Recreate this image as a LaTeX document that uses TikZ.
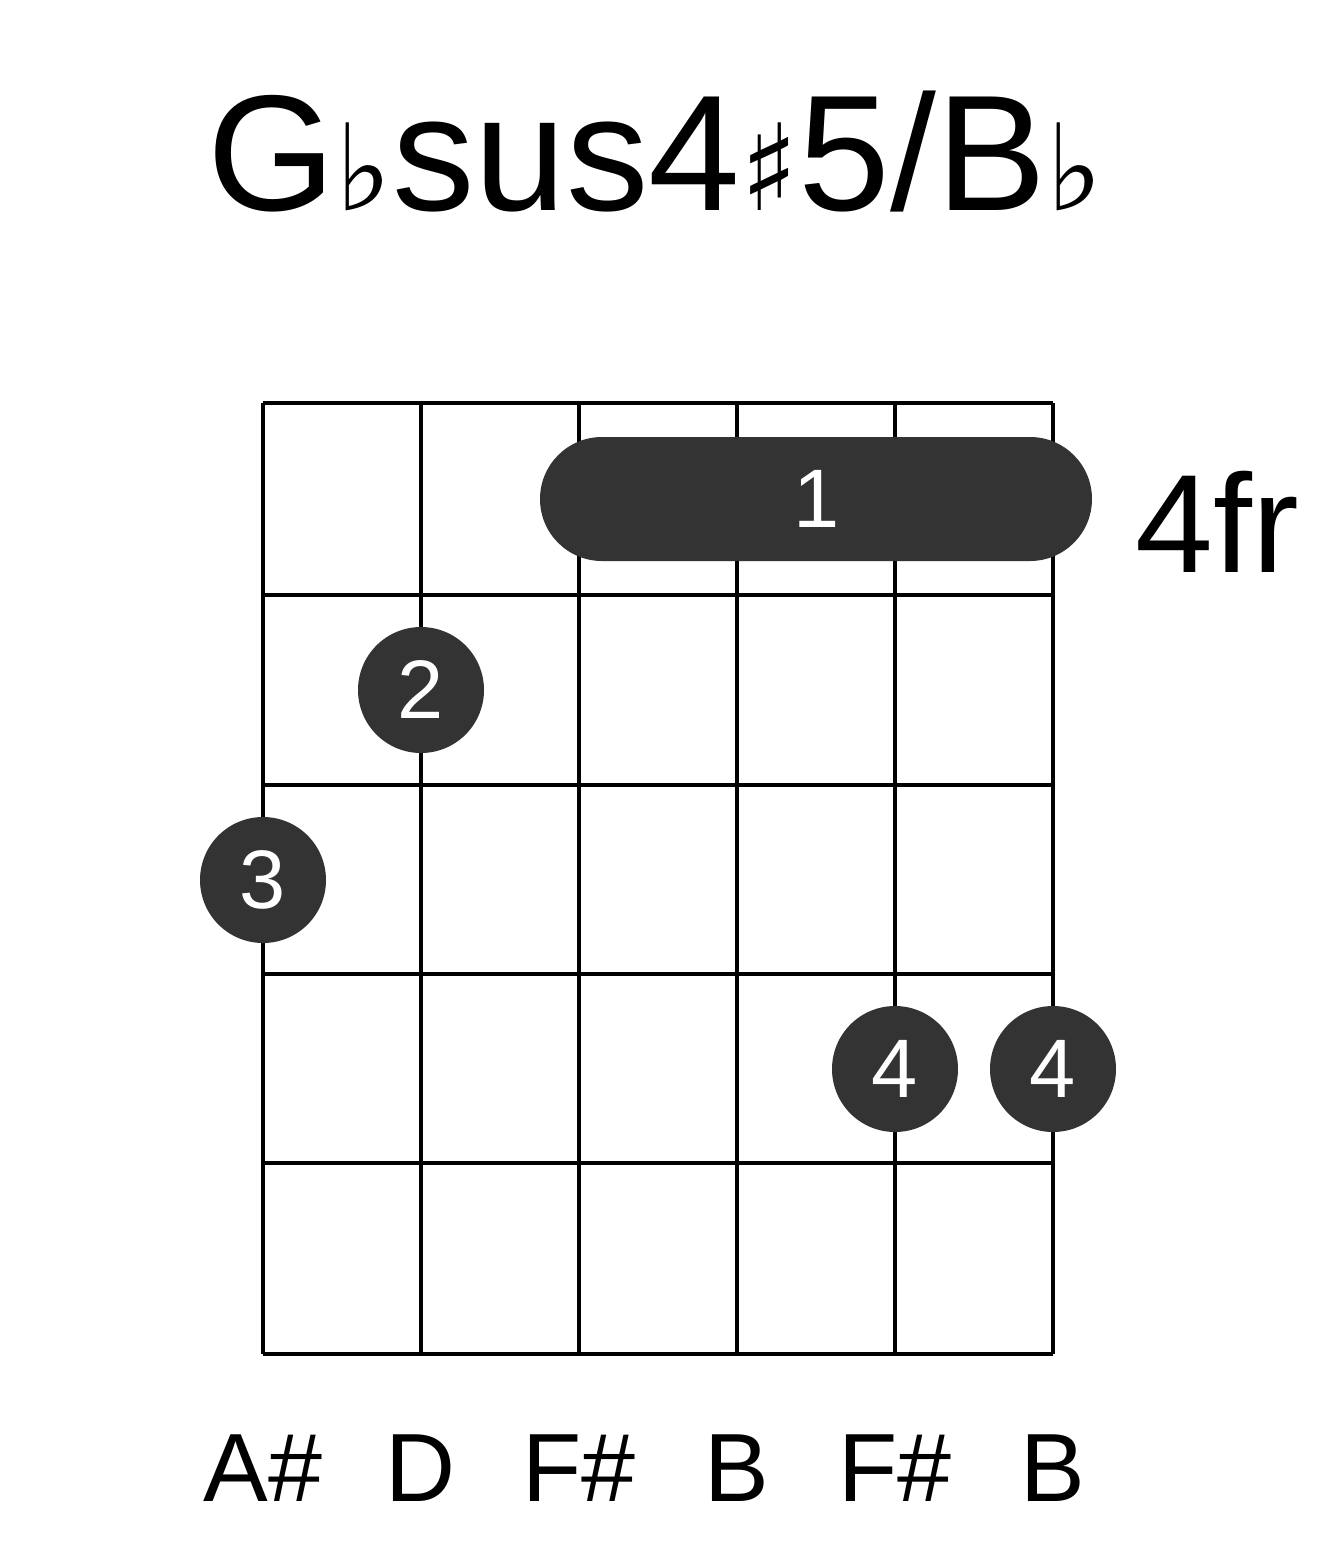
\documentclass[tikz,border=0pt]{standalone}
\usepackage{fontspec}
\setmainfont{Liberation Sans}
\newfontfamily\symfont{DejaVu Sans}
\definecolor{dot}{HTML}{333333}
\begin{document}
\begin{tikzpicture}[x=1pt,y=-1pt,
  fing/.style={circle,fill=dot,minimum size=126pt,inner sep=0pt,text=white,font=\fontsize{83}{83}\selectfont},
  lab/.style={font=\fontsize{97}{97}\selectfont}]
\useasboundingbox (0,0) rectangle (1317,1551);
\foreach \x in {263,421,579,737,895,1053} \draw[line width=4pt] (\x,403) -- (\x,1354);
\foreach \y in {403,595,785,974,1163,1354} \draw[line width=4pt] (263,\y) -- (1053,\y);
\draw[fill=dot,draw=none,rounded corners=62pt] (540,437) rectangle (1092,561);
\node[text=white,font=\fontsize{83}{83}\selectfont] (b1) at (817,499) {1};
\node[fing] (f2) at (421,690) {2};
\node[fing] (f3) at (263,880) {3};
\node[fing] (f4a) at (895,1069) {4};
\node[fing] (f4b) at (1053,1069) {4};
\node[font=\fontsize{140}{140}\selectfont] (fr) at (1217,522) {4fr};
\node[font=\fontsize{165}{165}\selectfont] (t) at (655,152) {G{\symfont\fontsize{120}{120}\selectfont ♭}sus4{\symfont\fontsize{120}{120}\selectfont ♯}5/B{\symfont\fontsize{120}{120}\selectfont ♭}};
\foreach \x/\t in {263/A\#,421/D,579/F\#,737/B,895/F\#,1053/B} \node[lab] at (\x,1468) {\t};
\end{tikzpicture}
\end{document}
